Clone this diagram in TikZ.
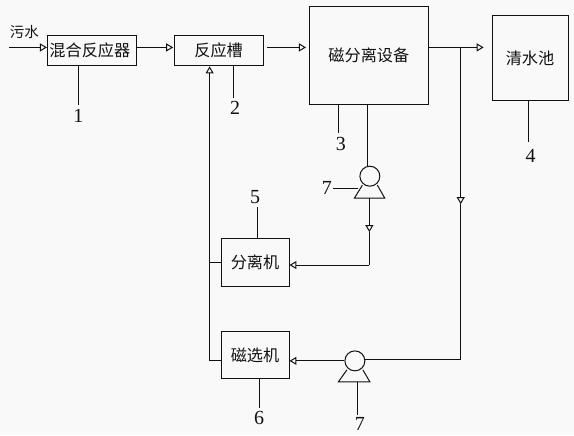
\documentclass[tikz,border=0pt]{standalone}
\usepackage{fontspec}
\setmainfont{Liberation Serif}
\newfontfamily\cjk{Noto Sans CJK SC}
\usetikzlibrary{arrows.meta}
\definecolor{bgc}{HTML}{F9F9F9}
\definecolor{ink}{HTML}{111111}
\tikzset{
  x=1pt,y=-1pt,
  every path/.style={line width=1pt,draw=ink},
  boxn/.style={draw=ink,line width=1pt,inner sep=0pt,font=\cjk\fontsize{16.2}{17}\selectfont,text=ink},
  num/.style={inner sep=0pt,font=\fontsize{20}{20}\selectfont,text=ink},
  flow/.style={-{Triangle[open,fill=bgc,length=7pt,width=8pt]}},
  pumpc/.style={circle,draw=ink,line width=1pt,minimum size=20pt,inner sep=0pt},
}
\begin{document}
\begin{tikzpicture}
\useasboundingbox (0,0) rectangle (574,435);
\fill[bgc,draw=none] (0,0) rectangle (574,435);
% boxes
\node[boxn,minimum width=89pt,minimum height=30pt] (mix) at (91.5,50) {\hspace*{-4pt}混合反应器};
\node[boxn,minimum width=89pt,minimum height=30pt] (tank) at (218.5,50) {反应槽};
\node[boxn,minimum width=119pt,minimum height=98pt] (mag) at (369,55) {\raisebox{1.5pt}{磁分离设备}};
\node[boxn,minimum width=76pt,minimum height=85pt] (clear) at (530.5,57.5) {清水池};
\node[boxn,minimum width=68pt,minimum height=48pt] (sep) at (255,262) {分离机};
\node[boxn,minimum width=68pt,minimum height=47pt] (sel) at (255,355.5) {\raisebox{1pt}{磁选机}};
\node[inner sep=0pt,font=\cjk\fontsize{14.5}{15}\selectfont,text=ink] (sewage) at (24,32) {污水};
% pumps
\node[pumpc] (p1) at (370,176) {};
\node[pumpc] (p2) at (355,361) {};
\coordinate (p1l) at (362.5,185); \coordinate (p1r) at (377.5,185);
\coordinate (p1bl) at (354.5,198); \coordinate (p1br) at (385,198);
\coordinate (p2l) at (347,370); \coordinate (p2r) at (363,370);
\coordinate (p2bl) at (338.5,382); \coordinate (p2br) at (370,382);
\draw (p1l) -- (p1bl) -- (p1br) -- (p1r);
\draw (p2l) -- (p2bl) -- (p2br) -- (p2r);
% numbers
\node[num] (n1) at (78,116) {1};
\node[num] (n2) at (235,108) {2};
\node[num] (n3) at (341,144) {3};
\node[num] (n4) at (531,156) {4};
\node[num] (n5) at (255,197) {5};
\node[num] (n6) at (259,418) {6};
\node[num] (n7a) at (327,188) {7};
\node[num] (n7b) at (360,424) {7};
% leader lines
\coordinate (l1) at (78,105); \draw (mix.south -| l1) -- (l1);
\coordinate (l2) at (233,98); \draw (tank.south -| l2) -- (l2);
\coordinate (l3) at (339,133); \draw (mag.south -| l3) -- (l3);
\coordinate (l4) at (529,142); \draw (clear.south -| l4) -- (l4);
\coordinate (l5) at (257,207); \draw (sep.north -| l5) -- (l5);
\coordinate (l6) at (259,408); \draw (sel.south -| l6) -- (l6);
\coordinate (l7a) at (333,188); \coordinate (l7ae) at (358,188); \draw (l7a) -- (l7ae);
\coordinate (l7b) at (358,415); \draw (p2bl -| l7b) -- (l7b);
% main flow
\coordinate (in) at (9,47);
\draw[flow] (in) -- (in -| mix.west);
\coordinate (a1) at (136,47); \coordinate (a2) at (173,47);
\draw[flow] (a1) -- (a2);
\coordinate (b1) at (267,47); \coordinate (b2) at (306,47);
\draw[flow] (b1) -- (b2);
\coordinate (c1) at (428,47); \coordinate (c2) at (484,47);
\draw[flow] (c1) -- (c2);
% branch and magnetic separator line
\coordinate (br) at (461,47); \coordinate (brm) at (461,204); \coordinate (brb) at (461,360);
\draw[flow] (br) -- (brm);
\draw (brm) -- (brb) -- (p2.east |- brb);
\draw[flow] (p2.west) -- (p2.west -| sel.east);
% pump 1 lines
\coordinate (m1) at (368,104); \coordinate (m2) at (368,166);
\draw (m1) -- (m2);
\coordinate (q1) at (369.5,198); \coordinate (qm) at (369.5,232); \coordinate (q2) at (369.5,265);
\draw[flow] (q1) -- (qm);
\draw (qm) -- (q2);
\draw[flow] (q2) -- (q2 -| sep.east);
% return line
\coordinate (r0) at (209.5,361); \coordinate (r1) at (209.5,66); \coordinate (r2) at (209.5,262);
\draw[flow] (sel.west |- r0) -- (r0) -- (r1);
\draw (sep.west) -- (r2);
\end{tikzpicture}
\end{document}
